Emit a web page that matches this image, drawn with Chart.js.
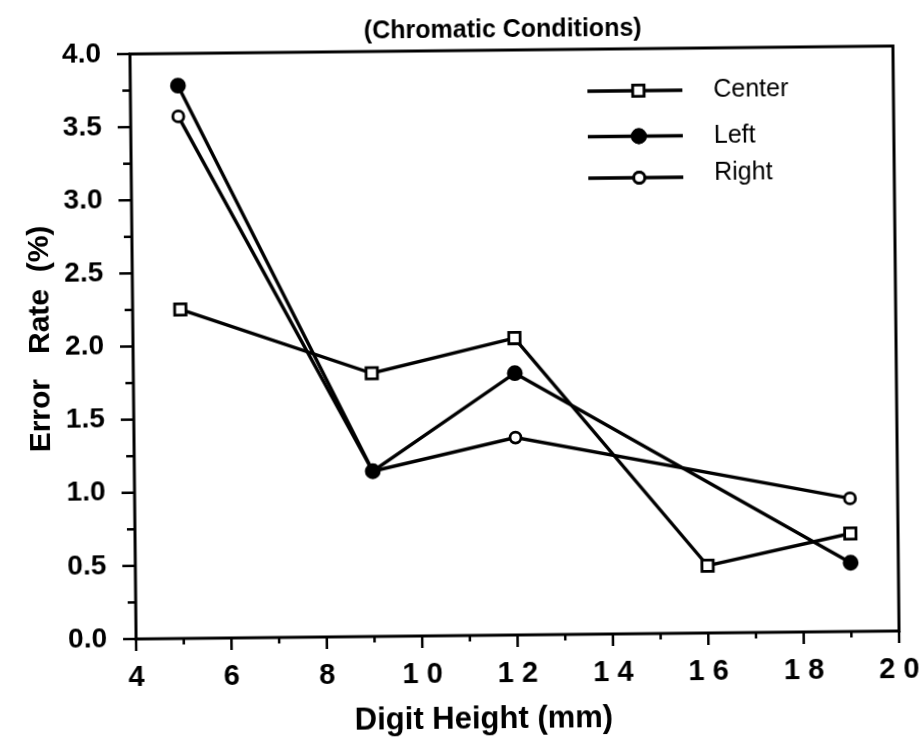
<!DOCTYPE html>
<html>
<head>
<meta charset="utf-8">
<title>Error Rate by Digit Height</title>
<script src="https://cdn.jsdelivr.net/npm/chart.js@4.4.1/dist/chart.umd.min.js"></script>
<style>
    html, body { margin: 0; padding: 0; background: #fff; }
    /* the printed figure sits slightly askew on the page */
    #errorChart { display: block; transform: rotate(-0.6deg); transform-origin: 514.5px 342.5px; }
</style>
</head>
<body>
<canvas id="errorChart" width="924" height="738"></canvas>
<script>
// Error rate (%) per digit height (mm), chromatic conditions
const seriesNames = ['Center', 'Left', 'Right'];
const centerHeights = [5, 9, 12, 16, 19];
const centerRates = [2.25, 1.80, 2.03, 0.46, 0.67];
const leftHeights = [5, 9, 12, 19];
const leftRates = [3.78, 1.13, 1.79, 0.47];
const rightHeights = [5, 9, 12, 19];
const rightRates = [3.57, 1.13, 1.35, 0.91];
const xTickValues = [4, 6, 8, 10, 12, 14, 16, 18, 20];
const yTickValues = [0, 0.5, 1, 1.5, 2, 2.5, 3, 3.5, 4];

const FONT = "'Liberation Sans', Arial, Helvetica, sans-serif";
const INK = '#000';

const toPoints = (xs, ys) => xs.map((x, i) => ({ x, y: ys[i] }));

const seriesStyle = (label, xs, ys, pointStyle, fill, radius) => ({
    label,
    data: toPoints(xs, ys),
    borderColor: INK,
    borderWidth: 3.4,
    pointStyle,
    pointRadius: radius,
    pointBackgroundColor: fill,
    pointBorderColor: INK,
    pointBorderWidth: 2.8,
    tension: 0,
    clip: false,
});

// frame, tick marks, titles and the line-and-marker legend
const decorations = {
    id: 'decorations',
    afterDraw(chart) {
        const { ctx, chartArea: area, scales } = chart;
        const xs = scales.x, ys = scales.y;
        ctx.save();
        ctx.strokeStyle = INK;
        ctx.fillStyle = INK;

        ctx.lineWidth = 3;
        ctx.strokeRect(area.left, area.top, area.right - area.left, area.bottom - area.top);

        // x ticks: long at even values, short at odd
        ctx.lineWidth = 2.5;
        for (let v = xs.min; v <= xs.max; v++) {
            const px = xs.getPixelForValue(v);
            const len = v % 2 === 0 ? 12 : 6;
            ctx.beginPath();
            ctx.moveTo(px, area.bottom);
            ctx.lineTo(px, area.bottom + len);
            ctx.stroke();
        }
        // y ticks: long every 0.5, short every 0.25
        for (let i = 0; i <= 16; i++) {
            const py = ys.getPixelForValue(i * 0.25);
            const len = i % 2 === 0 ? 13 : 8;
            ctx.beginPath();
            ctx.moveTo(area.left, py);
            ctx.lineTo(area.left - len, py);
            ctx.stroke();
        }

        // titles
        ctx.textAlign = 'center';
        ctx.textBaseline = 'alphabetic';
        ctx.font = `bold 25px ${FONT}`;
        ctx.fillText('(Chromatic Conditions)', 506, 37);
        ctx.font = `bold 31px ${FONT}`;
        ctx.fillText('Digit Height (mm)', 480, 728);
        ctx.save();
        ctx.translate(49, 334);
        ctx.rotate(-Math.PI / 2);
        ctx.font = `bold 30px ${FONT}`;
        ctx.fillText('Error   Rate  (%)', 0, 0);
        ctx.restore();

        // legend
        const rows = [
            { line: 92, text: 99 },
            { line: 137.5, text: 145 },
            { line: 179, text: 182 },
        ];
        chart.data.datasets.forEach((ds, i) => {
            const row = rows[i];
            ctx.lineWidth = 3.4;
            ctx.beginPath();
            ctx.moveTo(590, row.line);
            ctx.lineTo(685, row.line);
            ctx.stroke();
            ctx.fillStyle = ds.pointBackgroundColor;
            ctx.lineWidth = ds.pointBorderWidth;
            Chart.helpers.drawPoint(ctx, {
                pointStyle: ds.pointStyle,
                radius: ds.pointRadius,
                rotation: 0,
                borderWidth: ds.pointBorderWidth,
            }, 641, row.line);
            ctx.fill();
            ctx.stroke();
            ctx.fillStyle = INK;
            ctx.textAlign = 'left';
            ctx.font = `25px ${FONT}`;
            ctx.fillText(ds.label, 716, row.text);
        });
        ctx.restore();
    },
};

new Chart(document.getElementById('errorChart'), {
    type: 'line',
    data: {
        datasets: [
            seriesStyle(seriesNames[0], centerHeights, centerRates, 'rect', '#fff', 8),
            seriesStyle(seriesNames[1], leftHeights, leftRates, 'circle', INK, 6.5),
            seriesStyle(seriesNames[2], rightHeights, rightRates, 'circle', '#fff', 5.5),
        ],
    },
    options: {
        responsive: false,
        devicePixelRatio: 1,
        animation: false,
        layout: { padding: { left: 0, top: 50, right: 28, bottom: 0 } },
        plugins: {
            legend: { display: false },
            tooltip: { enabled: false },
        },
        scales: {
            x: {
                type: 'linear',
                min: 4,
                max: 20,
                afterBuildTicks: (scale) => { scale.ticks = xTickValues.map(value => ({ value })); },
                afterFit: (scale) => {
                    scale.height = 103;
                    scale.paddingLeft = 0;
                    scale.paddingRight = 0;
                },
                grid: { display: false },
                border: { display: false },
                ticks: {
                    autoSkip: false,
                    maxRotation: 0,
                    padding: 14,
                    color: INK,
                    font: { family: FONT, size: 29, weight: 'bold' },
                    callback: (v) => String(v).split('').join(' '),
                },
            },
            y: {
                min: 0,
                max: 4,
                afterBuildTicks: (scale) => { scale.ticks = yTickValues.map(value => ({ value })); },
                afterFit: (scale) => {
                    scale.width = 133;
                    scale.paddingTop = 0;
                    scale.paddingBottom = 0;
                },
                grid: { display: false },
                border: { display: false },
                ticks: {
                    padding: 21,
                    color: INK,
                    font: { family: FONT, size: 28, weight: 'bold' },
                    callback: (v) => v.toFixed(1),
                },
            },
        },
    },
    plugins: [decorations],
});
</script>
</body>
</html>
